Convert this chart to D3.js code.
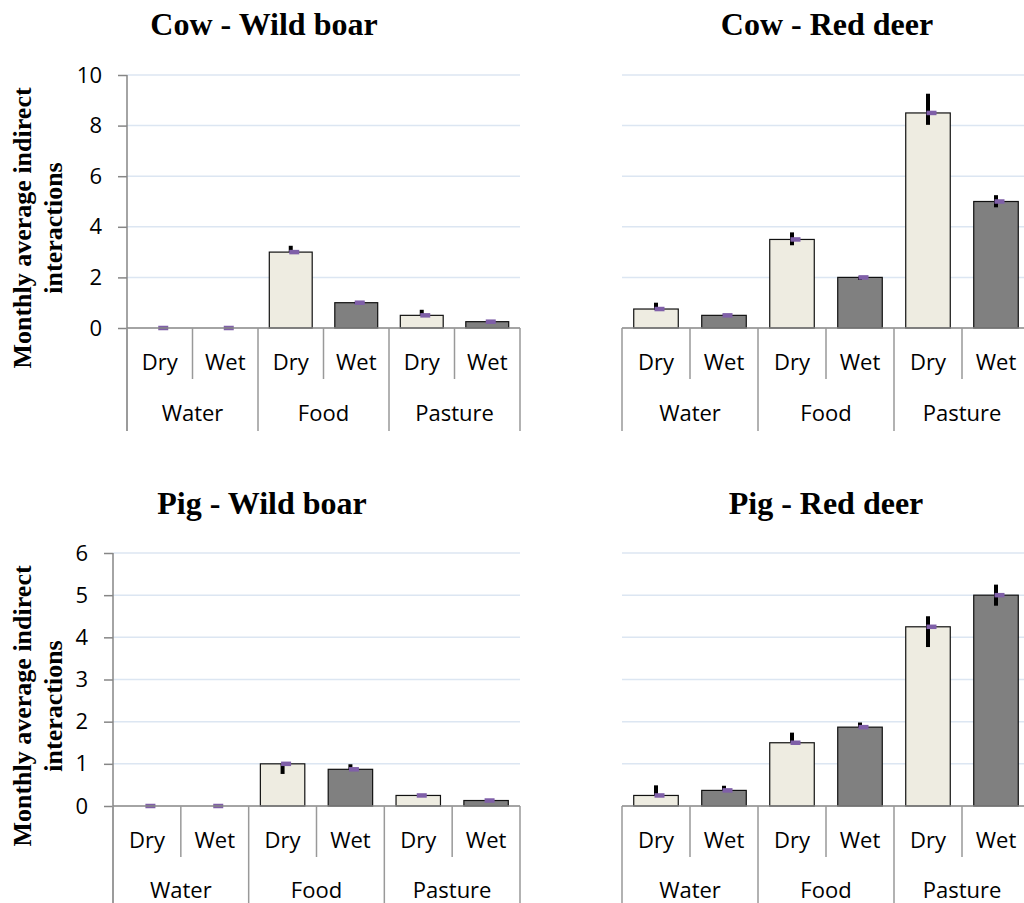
<!DOCTYPE html>
<html>
<head>
<meta charset="utf-8">
<script src="https://cdn.jsdelivr.net/npm/d3@7"></script>
<style>
  body { margin: 0; background: #fff; }
  svg { display: block; }
</style>
</head>
<body>
<div id="chart"></div>
<script>
// categories
const groups = ["Water", "Food", "Pasture"];
const seasons = ["Dry", "Wet"];

// series values (mean, lower and upper end of the error bar), order: Water Dry/Wet, Food Dry/Wet, Pasture Dry/Wet
const cowBoarMean = [0, 0, 3.0, 1.0, 0.5, 0.25];
const cowBoarLow  = [0, 0, 3.0, 0.97, 0.5, 0.25];
const cowBoarHigh = [0, 0, 3.25, 1.03, 0.72, 0.25];

const cowDeerMean = [0.75, 0.5, 3.5, 2.0, 8.5, 5.0];
const cowDeerLow  = [0.72, 0.48, 3.27, 1.9, 8.03, 4.77];
const cowDeerHigh = [1.0, 0.52, 3.78, 2.03, 9.26, 5.25];

const pigBoarMean = [0, 0, 1.0, 0.87, 0.25, 0.13];
const pigBoarLow  = [0, 0, 0.76, 0.87, 0.25, 0.13];
const pigBoarHigh = [0, 0, 1.0, 0.99, 0.25, 0.13];

const pigDeerMean = [0.25, 0.37, 1.5, 1.87, 4.25, 5.0];
const pigDeerLow  = [0.25, 0.37, 1.5, 1.87, 3.77, 4.75];
const pigDeerHigh = [0.49, 0.48, 1.74, 1.98, 4.5, 5.25];

// tick labels
const cowTicks = [0, 2, 4, 6, 8, 10];
const pigTicks = [0, 1, 2, 3, 4, 5, 6];

const yLabel = ["Monthly average indirect", "interactions"];

const W = 1024, H = 903;
const sansFont = "'Open Sans', 'Noto Sans', sans-serif";
const serifFont = "'Liberation Serif', 'Times New Roman', serif";

const svg = d3.select("#chart").append("svg")
    .attr("width", W)
    .attr("height", H)
    .style("background", "#fff");

// keys for the 6 slots
const keys = groups.flatMap(g => seasons.map(s => g + "-" + s));

const panels = [
    {title: "Cow - Wild boar", mean: cowBoarMean, low: cowBoarLow, high: cowBoarHigh, ticks: cowTicks,
     left: 127, right: 520, top: 75, base: 328, axis: true, titleX: 264, titleY: 35,
     innerBottom: 379, outerBottom: 431, catY: 370, groupY: 421, labelY: 228},
    {title: "Cow - Red deer", mean: cowDeerMean, low: cowDeerLow, high: cowDeerHigh, ticks: cowTicks,
     left: 622, right: 1030, top: 75, base: 328, axis: false, titleX: 827, titleY: 35,
     innerBottom: 379, outerBottom: 431, catY: 370, groupY: 421},
    {title: "Pig - Wild boar", mean: pigBoarMean, low: pigBoarLow, high: pigBoarHigh, ticks: pigTicks,
     left: 113, right: 520, top: 553, base: 806, axis: true, titleX: 262, titleY: 514,
     innerBottom: 857, outerBottom: 910, catY: 848, groupY: 898, labelY: 706},
    {title: "Pig - Red deer", mean: pigDeerMean, low: pigDeerLow, high: pigDeerHigh, ticks: pigTicks,
     left: 622, right: 1030, top: 553, base: 806, axis: false, titleX: 826, titleY: 514,
     innerBottom: 857, outerBottom: 910, catY: 848, groupY: 898}
];

panels.forEach(drawPanel);

function drawPanel(p) {
    const g = svg.append("g");

    const x = d3.scaleBand().domain(keys).range([p.left, p.right]).padding(0);
    const y = d3.scaleLinear()
        .domain([0, d3.max(p.ticks)])
        .range([p.base, p.top]);

    const barW = x.bandwidth() * 0.655;
    const cx = k => x(k) + x.bandwidth() / 2;

    // gridlines
    g.append("g").selectAll("line")
        .data(p.ticks.filter(t => t > 0))
        .join("line")
        .attr("x1", p.left).attr("x2", p.right)
        .attr("y1", d => y(d)).attr("y2", d => y(d))
        .attr("stroke", "#dce6f2")
        .attr("stroke-width", 1.5);

    // y axis
    if (p.axis) {
        const yAxis = d3.axisLeft(y)
            .tickValues(p.ticks)
            .tickFormat(d3.format("d"))
            .tickSize(9)
            .tickPadding(16);
        const ax = g.append("g")
            .attr("transform", `translate(${p.left},0)`)
            .call(yAxis);
        ax.select(".domain").remove();
        ax.selectAll(".tick line").attr("stroke", "#868686").attr("stroke-width", 1.5);
        ax.selectAll(".tick text")
            .attr("font-family", sansFont)
            .attr("font-size", 22)
            .attr("fill", "#000");
        g.append("line")
            .attr("x1", p.left).attr("x2", p.left)
            .attr("y1", p.top).attr("y2", p.outerBottom)
            .attr("stroke", "#868686").attr("stroke-width", 1.5);

        g.append("text")
            .attr("transform", `translate(30.5,${p.labelY}) rotate(-90)`)
            .attr("text-anchor", "middle")
            .attr("font-family", serifFont)
            .attr("font-weight", "bold")
            .attr("font-size", 26)
            .selectAll("tspan")
            .data(yLabel)
            .join("tspan")
            .attr("x", 0)
            .attr("y", (d, i) => i * 31.5)
            .text(d => d);
    }

    // bars
    g.append("g").selectAll("rect")
        .data(keys)
        .join("rect")
        .attr("x", d => cx(d) - barW / 2)
        .attr("width", barW)
        .attr("y", (d, i) => y(p.mean[i]))
        .attr("height", (d, i) => p.base - y(p.mean[i]))
        .attr("fill", (d, i) => i % 2 === 0 ? "#eeece1" : "#808080")
        .attr("stroke", "#111")
        .attr("stroke-width", (d, i) => p.mean[i] > 0 ? 1.2 : 0);

    // error bars
    g.append("g").selectAll("line")
        .data(keys)
        .join("line")
        .attr("x1", d => cx(d)).attr("x2", d => cx(d))
        .attr("y1", (d, i) => y(p.low[i]))
        .attr("y2", (d, i) => y(p.high[i]))
        .attr("stroke", "#000")
        .attr("stroke-width", 4);

    // mean markers
    g.append("g").selectAll("rect")
        .data(keys)
        .join("rect")
        .attr("x", d => cx(d) - 1.5)
        .attr("width", 10)
        .attr("y", (d, i) => y(p.mean[i]) - 2.25)
        .attr("height", 4.5)
        .attr("fill", "#7f5fa8");

    // category axis baseline
    g.append("line")
        .attr("x1", p.left).attr("x2", p.right)
        .attr("y1", p.base).attr("y2", p.base)
        .attr("stroke", "#868686").attr("stroke-width", 1.5);

    // slot separators
    const edges = keys.map(k => x(k)).concat([p.right]);
    g.append("g").selectAll("line")
        .data(edges)
        .join("line")
        .attr("x1", d => d).attr("x2", d => d)
        .attr("y1", p.base)
        .attr("y2", (d, i) => i % 2 === 0 ? p.outerBottom : p.innerBottom)
        .attr("stroke", "#999")
        .attr("stroke-width", 1.5);

    // season labels
    g.append("g").selectAll("text")
        .data(keys)
        .join("text")
        .attr("x", d => cx(d))
        .attr("y", p.catY)
        .attr("text-anchor", "middle")
        .attr("font-family", sansFont)
        .attr("font-size", 22)
        .text(d => d.split("-")[1]);

    // group labels
    g.append("g").selectAll("text")
        .data(groups)
        .join("text")
        .attr("x", d => x(d + "-Dry") + x.bandwidth())
        .attr("y", p.groupY)
        .attr("text-anchor", "middle")
        .attr("font-family", sansFont)
        .attr("font-size", 22)
        .text(d => d);

    // title
    g.append("text")
        .attr("x", p.titleX)
        .attr("y", p.titleY)
        .attr("text-anchor", "middle")
        .attr("font-family", serifFont)
        .attr("font-weight", "bold")
        .attr("font-size", 32)
        .text(p.title);
}
</script>
</body>
</html>
